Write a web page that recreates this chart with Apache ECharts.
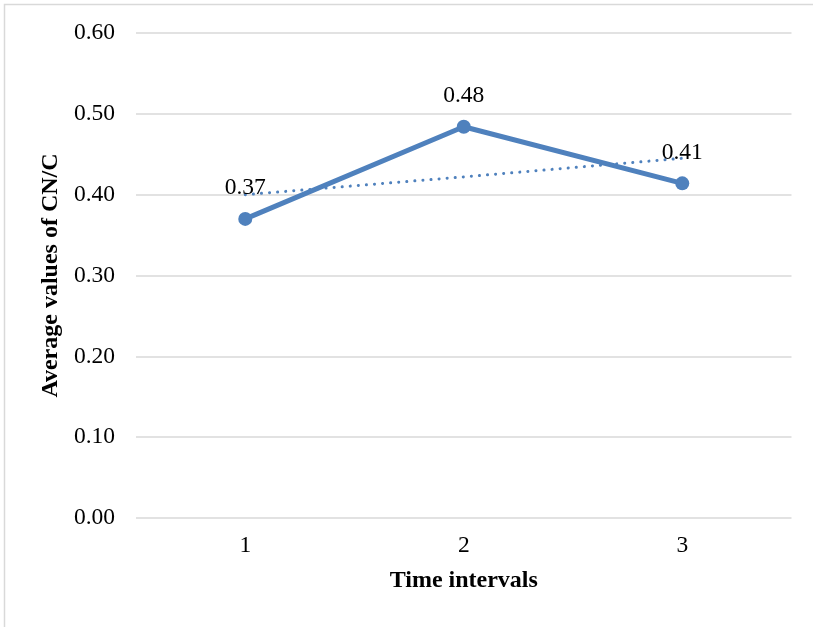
<!DOCTYPE html>
<html>
<head>
<meta charset="utf-8">
<script src="https://cdn.jsdelivr.net/npm/echarts@6/dist/echarts.min.js"></script>
<style>
html,body{margin:0;padding:0;background:#fff;}
#chart{width:813px;height:627px;}
</style>
</head>
<body>
<div id="chart"></div>
<script>
var categories = ['1', '2', '3'];
var cnValues = [0.37, 0.484, 0.414];
var labelTexts = ['0.37', '0.48', '0.41'];
var trendValues = [0.40, 0.422, 0.445];
var yTicks = { min: 0, max: 0.6, interval: 0.1 };

var chart = echarts.init(document.getElementById('chart'), null, { renderer: 'canvas' });
var FONT = '"Liberation Serif", "Times New Roman", serif';
var BLUE = '#4F81BD';

chart.setOption({
  animation: false,
  backgroundColor: '#fff',
  graphic: [{
    type: 'rect',
    shape: { x: 4.5, y: 4.5, width: 900, height: 700 },
    style: { fill: 'none', stroke: '#D9D9D9', lineWidth: 1.5 },
    silent: true
  }],
  grid: { left: 136, right: 21.5, top: 33, bottom: 109, containLabel: false },
  xAxis: {
    type: 'category',
    data: categories,
    boundaryGap: true,
    axisLine: { show: false },
    axisTick: { show: false },
    axisLabel: { color: '#000', fontFamily: FONT, fontSize: 23.5, margin: 16 },
    name: 'Time intervals',
    nameLocation: 'middle',
    nameGap: 51,
    nameTextStyle: { color: '#000', fontFamily: FONT, fontSize: 24, fontWeight: 'bold' }
  },
  yAxis: {
    type: 'value',
    min: yTicks.min,
    max: yTicks.max,
    interval: yTicks.interval,
    axisLine: { show: false },
    axisTick: { show: false },
    splitLine: { lineStyle: { color: '#D9D9D9', width: 1.5 } },
    axisLabel: {
      color: '#000', fontFamily: FONT, fontSize: 23.5, margin: 21,
      formatter: function (v) { return v.toFixed(2); }
    },
    name: 'Average values of CN/C',
    nameLocation: 'middle',
    nameGap: 59,
    nameRotate: 90,
    nameTextStyle: { color: '#000', fontFamily: FONT, fontSize: 24, fontWeight: 'bold' }
  },
  series: [
    {
      type: 'line',
      data: trendValues,
      symbol: 'none',
      lineStyle: { color: BLUE, width: 3, type: [0.1, 8], cap: 'round' },
      silent: true,
      z: 2
    },
    {
      type: 'line',
      data: cnValues,
      symbol: 'circle',
      symbolSize: 14,
      itemStyle: { color: BLUE },
      lineStyle: { color: BLUE, width: 5 },
      label: {
        show: true,
        position: 'top',
        distance: 12,
        color: '#000',
        fontFamily: FONT,
        fontSize: 23.5,
        formatter: function (p) { return labelTexts[p.dataIndex]; }
      },
      z: 3
    }
  ]
});
</script>
</body>
</html>
